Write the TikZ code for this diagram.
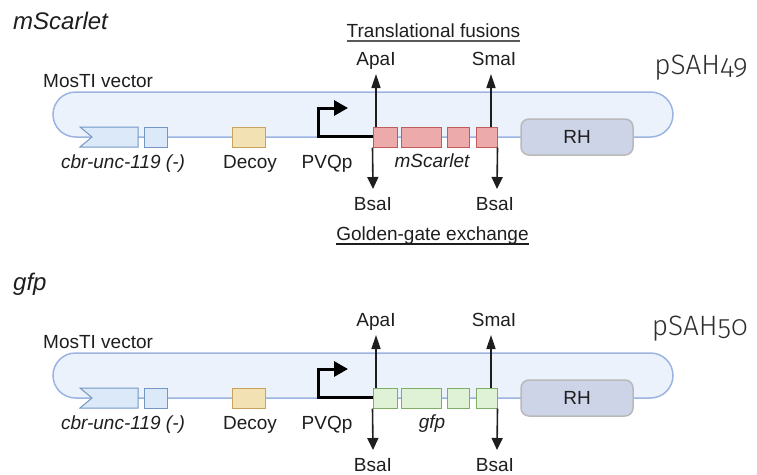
\documentclass[tikz,border=0pt]{standalone}
\usepackage{fontspec}
\setmainfont{Liberation Sans}
\newfontfamily\psahfont[Numbers=OldStyle]{Fira Sans Light}
\usetikzlibrary{arrows.meta,calc}
\definecolor{pillfill}{HTML}{EBF2FC}
\definecolor{pilldraw}{HTML}{9BB4E1}
\definecolor{uncfill}{HTML}{DCE9F8}
\definecolor{uncdraw}{HTML}{7398C6}
\definecolor{decoyfill}{HTML}{F2E2B3}
\definecolor{decoydraw}{HTML}{C8A25E}
\definecolor{rhfill}{HTML}{CED4E7}
\definecolor{rhdraw}{HTML}{B9B9B9}
\definecolor{redfill}{HTML}{ECAAAA}
\definecolor{reddraw}{HTML}{C25B5B}
\definecolor{grnfill}{HTML}{DFF2D6}
\definecolor{grndraw}{HTML}{7FAE68}
\definecolor{ink}{HTML}{1E1E1E}
\definecolor{psahgray}{HTML}{2E2E2E}
\tikzset{
  lbl/.style={font=\fontsize{19}{22}\selectfont, text=ink, inner sep=0pt},
  ilbl/.style={font=\fontsize{19}{22}\selectfont\itshape, text=ink, inner sep=0pt},
  ttl/.style={font=\fontsize{24}{27}\selectfont\itshape, text=ink, inner sep=0pt},
  psah/.style={font=\psahfont\fontsize{28}{31}\selectfont, text=psahgray, inner sep=0pt},
  pill/.style={draw=pilldraw, fill=pillfill, line width=1.5pt, rounded corners=22.5pt,
    minimum width=620pt, minimum height=45pt, inner sep=0pt},
  gbox/.style={line width=1pt, minimum height=20pt, inner sep=0pt},
  uncbox/.style={gbox, draw=uncdraw, fill=uncfill},
  decoybox/.style={gbox, draw=decoydraw, fill=decoyfill},
  rhbox/.style={draw=rhdraw, fill=rhfill, line width=1.5pt, rounded corners=8pt,
    minimum width=112pt, minimum height=36pt, inner sep=0pt, font=\fontsize{19}{22}\selectfont, text=ink},
  promline/.style={draw=black, line width=3pt, -{Triangle[length=14pt,width=15pt]}},
  uparr/.style={draw=ink, line width=1.6pt, -{Triangle[length=14pt,width=9pt]}},
  dnarr/.style={draw=ink, line width=1.6pt, -{Triangle[length=12pt,width=11pt]}},
  ulline/.style={line width=1.4pt},
}
\newcommand\vecpanel[8]{%
% #1 prefix, #2 dy, #3 fill, #4 draw, #5 title, #6 gene label, #7 plasmid, #8 extra
\begin{scope}[shift={(0,#2)}, name prefix=#1-]
  \node[ttl, anchor=base west] (title) at (13,29) {#5};
  \node[lbl, anchor=base west] (mos) at (43,87) {MosTI vector};
  \node[psah, anchor=base east] (plasmid) at (748,74) {#7};
  \node[pill] (pill) at (363,114.5) {};
  % cbr-unc-119 chevron
  \coordinate (unca) at (80,127);
  \coordinate (uncb) at (138,127);
  \coordinate (uncc) at (138,147);
  \coordinate (uncd) at (80,147);
  \coordinate (unce) at (92,137);
  \draw[draw=uncdraw, fill=uncfill, line width=1pt] (unca) -- (uncb) -- (uncc) -- (uncd) -- (unce) -- cycle;
  \node[uncbox, minimum width=23pt] (sq) at (155.5,137) {};
  \node[decoybox, minimum width=33pt] (decoy) at (248.5,137) {};
  \node[ilbl, anchor=base] (unclbl) at (123,168) {cbr-unc-119 (-)};
  \node[lbl, anchor=base] (decoylbl) at (250,168) {Decoy};
  \node[lbl, anchor=base] (pvq) at (327,168) {PVQp};
  % fusion boxes
  \node[gbox, draw=#4, fill=#3, minimum width=24pt] (b1) at (385,137) {};
  \node[gbox, draw=#4, fill=#3, minimum width=40pt] (b2) at (421,137) {};
  \node[gbox, draw=#4, fill=#3, minimum width=22pt] (b3) at (458,137) {};
  \node[gbox, draw=#4, fill=#3, minimum width=21pt] (b4) at (486.5,137) {};
  \node[ilbl, anchor=base] (glbl) at (432,167) {#6};
  \node[rhbox] (rh) at (577,137) {RH};
  % promoter
  \coordinate (promcorner) at (318,108);
  \coordinate (promtip) at (348,108);
  \draw[promline, line join=miter] ($(b1.west)+(0,-1)$) -| (promcorner) -- (promtip);
  % restriction sites
  \node[lbl, anchor=base] (apa) at (376,65) {ApaI};
  \node[lbl, anchor=base] (sma) at (494,65) {SmaI};
  \node[lbl, anchor=base] (bsa1) at (373,210) {BsaI};
  \node[lbl, anchor=base] (bsa2) at (495,210) {BsaI};
  \coordinate (apatip) at (376,74);
  \coordinate (smatip) at (491,74);
  \coordinate (bsatip1) at (373,189);
  \coordinate (bsatip2) at (497,189);
  \draw[uparr] (b1.north -| apatip) -- (apatip);
  \draw[uparr] (b4.north -| smatip) -- (smatip);
  \draw[dnarr] (b1.south west) -- (bsatip1);
  \draw[dnarr] (b4.south east) -- (bsatip2);
  #8
\end{scope}}
\begin{document}
\begin{tikzpicture}[x=1pt,y=-1pt]
\useasboundingbox (0,0) rectangle (757,474);
\vecpanel{t}{0}{redfill}{reddraw}{mScarlet}{mScarlet}{pSAH49}{%
  \node[lbl, anchor=base] (tf) at (433.5,37) {Translational fusions};
  \draw[ulline, draw=black!65] ([yshift=-4pt]tf.base west) -- ([yshift=-4pt]tf.base east);
  \node[lbl, anchor=base] (gg) at (432.5,240) {Golden-gate exchange};
  \draw[ulline, draw=ink] ([yshift=-4pt]gg.base west) -- ([yshift=-4pt]gg.base east);
}
\vecpanel{b}{261}{grnfill}{grndraw}{gfp}{gfp}{pSAH50}{}
\end{tikzpicture}
\end{document}
